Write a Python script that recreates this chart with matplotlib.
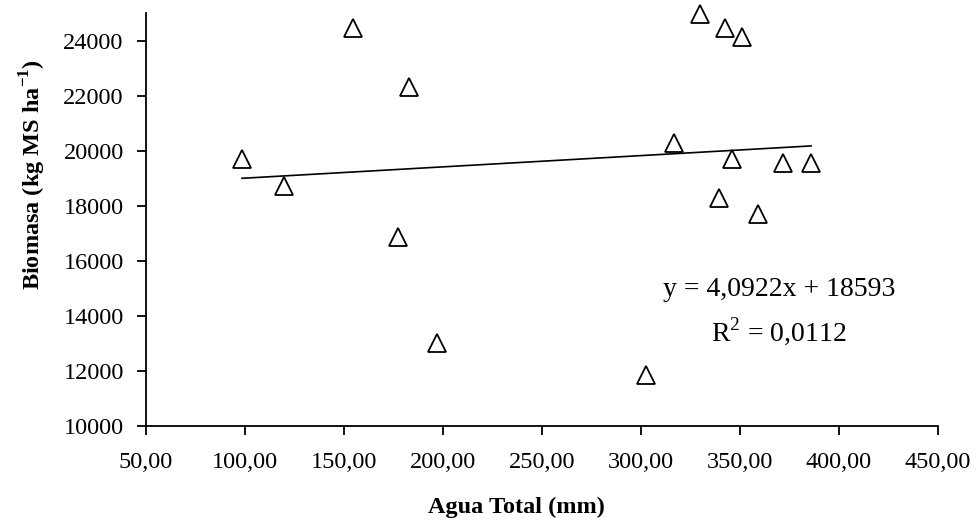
"""Biomasa vs Agua Total scatter with linear trend line."""
import matplotlib
matplotlib.use("Agg")
import matplotlib.pyplot as plt  # noqa: E402
from matplotlib.ticker import FuncFormatter  # noqa: E402

agua = [98.5, 119.7, 154.5, 182.8, 177.3, 197.0, 302.5, 316.6, 329.8,
        342.4, 351.0, 346.0, 339.4, 359.0, 371.7, 385.9]
biomasa = [19700, 18710, 24440, 22320, 16850, 13020, 11860, 20280, 24950,
           24440, 24110, 19700, 18280, 17690, 19550, 19550]
slope, intercept = 4.0922, 18593
r2 = "0,0112"

plt.rcParams["font.family"] = "Liberation Serif"
plt.rcParams["mathtext.fontset"] = "custom"
plt.rcParams["mathtext.rm"] = "Liberation Serif"
plt.rcParams["mathtext.bf"] = "Liberation Serif:bold"

fig = plt.figure(figsize=(9.79, 5.32), dpi=100)
ax = fig.add_axes([0.1491, 0.1992, 0.8090, 0.7764])

ax.plot(agua, biomasa, ls="none", marker="^", ms=13, mfc="white", mec="black",
        mew=1.3, clip_on=False, zorder=3)
xs = [min(agua), max(agua)]
ax.plot(xs, [slope * v + intercept for v in xs], c="black", lw=1.2)

ax.text(369.7, 14960, "y = 4,0922x + 18593", fontsize=20, ha="center", va="center")
ax.text(369.7, 13430, "R$^2$ = " + r2, fontsize=20, ha="center", va="center")

ax.set_xlim(50, 450)
ax.set_ylim(10000, 25000)
ax.set_xticks(range(50, 451, 50))
ax.set_yticks(range(10000, 24001, 2000))
ax.xaxis.set_major_formatter(FuncFormatter(lambda v, p: f"{v:.2f}".replace(".", ",")))
ax.yaxis.set_major_formatter(FuncFormatter(lambda v, p: f"{int(v)}"))
ax.tick_params(direction="out", length=6.5, width=1.3, labelsize=17.5)
ax.tick_params(axis="x", pad=12.5)
ax.tick_params(axis="y", pad=9.5)
for s in ("top", "right"):
    ax.spines[s].set_visible(False)
for s in ("left", "bottom"):
    ax.spines[s].set_linewidth(1.3)

ax.set_xlabel("Agua Total (mm)", fontsize=17.5, fontweight="bold", labelpad=17)
ax.set_ylabel(r"Biomasa (kg MS ha$^{\mathbf{-1}}$)", fontsize=17.5, fontweight="bold", labelpad=11)
ax.xaxis.label.set_x(0.468)
ax.yaxis.label.set_y(0.608)

fig.savefig("out.png", dpi=100)
